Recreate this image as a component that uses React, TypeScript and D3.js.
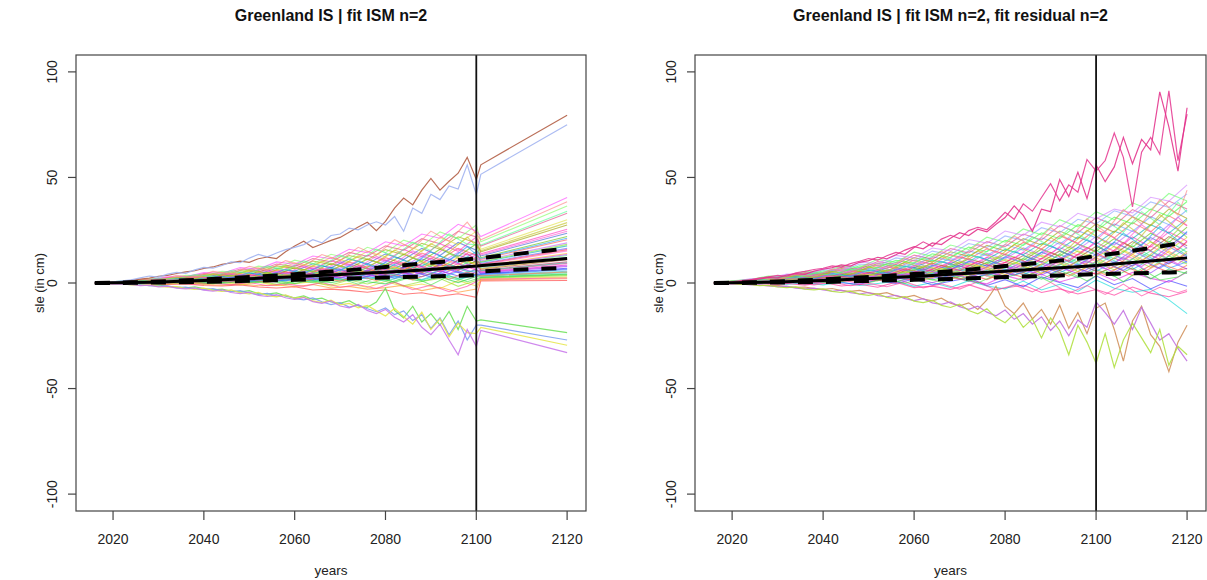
import React from "react";
import * as d3 from "d3";

const W = 1207;
const H = 580;
const TOP = 55;
const BOTTOM = 511;

const yTicks = [-100, -50, 0, 50, 100];
const xTicks = [2020, 2040, 2060, 2080, 2100, 2120];

const years4L = [2016, 2020, 2024, 2028, 2032, 2036, 2040, 2044, 2048, 2052, 2056, 2060, 2064, 2068, 2072, 2076, 2080, 2084, 2088, 2092, 2096, 2100];
const years4R = [2016, 2020, 2024, 2028, 2032, 2036, 2040, 2044, 2048, 2052, 2056, 2060, 2064, 2068, 2072, 2076, 2080, 2084, 2088, 2092, 2096, 2100, 2104, 2108, 2112, 2116, 2120];
const yearsOffL = [2016, 2018, 2022, 2026, 2030, 2034, 2038, 2042, 2046, 2050, 2054, 2058, 2062, 2066, 2070, 2074, 2078, 2082, 2086, 2090, 2094, 2098];
const yearsOffR = [2016, 2018, 2022, 2026, 2030, 2034, 2038, 2042, 2046, 2050, 2054, 2058, 2062, 2066, 2070, 2074, 2078, 2082, 2086, 2090, 2094, 2098, 2102, 2106, 2110, 2114, 2118, 2120];
const years2L = [2016, 2018, 2020, 2022, 2024, 2026, 2028, 2030, 2032, 2034, 2036, 2038, 2040, 2042, 2044, 2046, 2048, 2050, 2052, 2054, 2056, 2058, 2060, 2062, 2064, 2066, 2068, 2070, 2072, 2074, 2076, 2078, 2080, 2082, 2084, 2086, 2088, 2090, 2092, 2094, 2096, 2098, 2100];
const years2R = [2016, 2018, 2020, 2022, 2024, 2026, 2028, 2030, 2032, 2034, 2036, 2038, 2040, 2042, 2044, 2046, 2048, 2050, 2052, 2054, 2056, 2058, 2060, 2062, 2064, 2066, 2068, 2070, 2072, 2074, 2076, 2078, 2080, 2082, 2084, 2086, 2088, 2090, 2092, 2094, 2096, 2098, 2100, 2102, 2104, 2106, 2108, 2110, 2112, 2114, 2116, 2118, 2120];
const extrapYears = [2101, 2120];

// ---------- LEFT PANEL: fit ISM (noisy to 2100, straight extrapolation after) ----------
const leftBundle: number[][] = [
  [0, 0.1, -0.4, -0.3, -0.7, -0.5, -1.2, -1.4, -0.9, -1.9, -2.4, -1.8, -3.3, -2.9, -3.5, -4.4, -3.2, -5.3, -4.6, -6.2, -5.1, -6.8],
  [0, -0.2, 0.1, -0.3, -0.5, 0.0, -0.6, -1.1, -0.4, -1.3, -0.9, -1.8, -0.7, -2.4, -1.6, -2.9, -2.2, -1.1, -3.6, -2.0, -4.4, -2.9],
  [0, 0.2, -0.1, 0.1, -0.4, 0.3, -0.5, 0.2, -0.8, 0.4, -1.2, -0.3, 0.6, -1.5, -0.2, -2.1, 0.8, -1.7, -0.5, -2.6, 1.1, -1.4],
  [0, 0.0, 0.2, -0.2, 0.3, 0.5, -0.3, 0.6, -0.1, 0.9, -0.6, 1.2, 0.1, -0.9, 1.4, -0.5, 1.9, -1.3, 0.7, 2.1, -1.6, 1.2],
  [0, 0.1, -0.1, 0.3, 0.1, 0.6, 0.2, -0.2, 0.9, 0.4, 1.2, -0.3, 1.5, 0.2, 1.9, 0.6, -0.4, 2.3, 0.8, 2.8, 0.2, 3.1],
  [0, -0.1, 0.2, 0.1, 0.4, 0.2, 0.8, 0.3, 1.1, 0.5, 0.9, 1.6, 0.4, 2.0, 1.1, 2.6, 0.9, 3.1, 1.4, 3.6, 1.5, 4.2],
  [0, 0.2, 0.1, 0.4, 0.2, 0.7, 0.4, 1.1, 0.5, 1.4, 0.8, 2.0, 1.2, 2.6, 1.0, 3.1, 1.9, 3.8, 1.6, 4.5, 2.2, 3.4],
  [0, 0.0, 0.3, 0.2, 0.6, 0.4, 1.0, 0.6, 1.3, 0.9, 2.1, 1.3, 2.5, 1.6, 3.2, 2.0, 3.9, 2.4, 4.6, 2.9, 5.4, 3.6],
  [0, 0.1, 0.1, 0.5, 0.3, 0.9, 0.6, 1.4, 0.8, 2.0, 1.2, 2.6, 1.5, 3.3, 1.9, 4.1, 2.3, 4.9, 3.0, 5.8, 3.3, 6.5],
  [0, 0.2, 0.3, 0.2, 0.8, 0.5, 1.3, 0.9, 1.9, 1.4, 2.6, 1.8, 3.4, 2.2, 4.3, 2.9, 5.1, 3.4, 6.2, 4.0, 7.4, 4.6],
  [0, 0.0, 0.4, 0.6, 0.4, 1.2, 0.8, 1.7, 1.2, 2.5, 1.6, 3.4, 2.0, 4.4, 2.8, 5.2, 3.5, 6.4, 4.1, 7.5, 5.0, 8.6],
  [0, 0.2, 0.2, 0.7, 0.6, 1.0, 1.5, 1.2, 2.3, 1.9, 3.1, 2.5, 4.2, 3.0, 5.4, 3.8, 6.6, 4.5, 7.9, 5.3, 9.2, 6.0],
  [0, 0.1, 0.5, 0.3, 0.9, 0.8, 1.6, 1.1, 2.4, 1.7, 3.3, 2.2, 4.5, 3.1, 3.9, 5.8, 4.4, 7.2, 5.1, 8.6, 6.3, 10.4],
  [0, 0.3, 0.2, 0.6, 0.4, 1.3, 0.9, 2.0, 1.4, 2.9, 1.9, 3.8, 2.7, 5.0, 3.2, 6.1, 4.0, 7.6, 4.8, 9.0, 5.9, 10.6],
  [0, 0.0, 0.6, 0.4, 1.0, 0.8, 1.9, 1.2, 2.7, 1.8, 3.8, 2.6, 5.1, 3.4, 6.3, 4.2, 7.7, 5.5, 9.1, 6.2, 10.8, 7.4],
  [0, 0.2, 0.3, 0.9, 0.6, 1.5, 1.1, 2.3, 1.7, 3.4, 2.3, 4.6, 3.0, 5.9, 4.1, 7.2, 5.0, 8.9, 6.1, 10.5, 7.3, 12.2],
  [0, 0.1, 0.6, 0.5, 1.3, 0.9, 2.2, 1.5, 3.2, 2.2, 4.4, 2.9, 5.8, 3.9, 7.1, 4.8, 8.7, 6.0, 10.3, 7.2, 12.1, 8.9],
  [0, 0.3, 0.4, 1.0, 0.8, 1.9, 1.4, 2.8, 2.0, 3.9, 2.8, 5.2, 3.7, 6.6, 4.7, 8.2, 5.9, 9.8, 7.2, 11.6, 8.8, 13.5],
  [0, 0.2, 0.7, 0.6, 1.4, 1.2, 2.5, 1.8, 3.6, 2.6, 4.9, 3.5, 6.4, 4.5, 8.0, 5.6, 9.6, 7.0, 11.4, 8.5, 13.2, 10.6],
  [0, 0.1, 0.5, 1.1, 0.9, 2.0, 1.6, 3.1, 2.3, 4.4, 3.2, 5.8, 4.3, 7.4, 5.4, 9.1, 6.7, 10.9, 8.0, 12.8, 9.8, 14.9],
  [0, 0.3, 0.6, 0.8, 1.6, 1.3, 2.8, 2.1, 4.0, 3.1, 5.4, 4.0, 7.1, 5.3, 8.8, 6.6, 10.7, 8.0, 12.6, 9.5, 14.5, 12.0],
  [0, 0.2, 0.8, 0.7, 1.7, 1.6, 3.1, 2.3, 4.5, 3.5, 6.1, 4.6, 7.9, 6.0, 9.9, 7.5, 12.0, 9.2, 14.2, 11.0, 16.4, 13.2],
  [0, 0.4, 0.5, 1.3, 1.2, 2.5, 2.0, 3.8, 3.0, 5.4, 4.1, 7.2, 5.5, 9.1, 7.0, 11.3, 8.6, 13.5, 10.4, 16.0, 12.5, 18.6],
  [0, 0.2, 0.9, 1.0, 2.0, 1.9, 3.5, 2.9, 5.1, 4.2, 7.0, 5.6, 9.1, 7.2, 11.4, 9.0, 13.8, 11.1, 16.4, 13.0, 19.2, 15.5],
  [0, 0.3, 0.7, 1.5, 1.4, 2.9, 2.4, 4.4, 3.6, 6.3, 5.0, 8.4, 6.6, 10.6, 8.4, 13.1, 10.3, 15.9, 12.5, 18.6, 15.0, 21.8],
  [0, 0.4, 1.0, 1.2, 2.3, 2.3, 4.0, 3.5, 5.9, 5.1, 8.1, 6.8, 10.4, 8.7, 13.0, 11.0, 15.8, 13.4, 18.8, 16.0, 21.9, 19.0],
  [0, 0.3, 0.8, 1.7, 1.6, 3.2, 2.9, 4.9, 4.3, 7.2, 5.9, 9.6, 7.9, 12.1, 10.0, 15.0, 12.4, 18.2, 15.0, 21.5, 18.2, 24.6],
  [0, 0.5, 1.1, 1.4, 2.6, 2.7, 4.5, 4.0, 6.6, 5.9, 9.0, 7.8, 11.6, 10.1, 14.5, 12.7, 17.6, 15.5, 21.0, 18.6, 24.5, 21.8],
  [0, 0.4, 0.9, 1.9, 1.9, 3.6, 3.3, 5.5, 4.9, 8.0, 6.8, 10.8, 9.0, 13.6, 11.6, 16.9, 14.4, 20.3, 17.6, 24.2, 21.0, 27.5],
  [0, 0.5, 1.2, 1.6, 2.9, 3.0, 5.0, 4.6, 7.3, 6.6, 10.0, 8.9, 12.8, 11.5, 16.0, 14.4, 19.5, 17.6, 23.2, 21.2, 27.8, 24.6],
];

const leftExtrap: number[][] = [
  [1.0, 1.2], [1.5, 2.0], [2.0, 2.8], [2.3, 3.5], [2.8, 4.2], [3.2, 4.9], [3.6, 5.6], [4.0, 6.3], [4.4, 7.0], [4.8, 7.8],
  [5.2, 8.5], [5.6, 9.3], [6.0, 10.0], [6.5, 11.0], [7.0, 12.0], [7.5, 13.0], [8.0, 14.0], [8.6, 15.2], [9.2, 16.4], [9.8, 17.6],
  [10.5, 19.0], [11.2, 20.5], [12.0, 22.0], [12.8, 23.6], [13.8, 25.5], [14.8, 27.5], [16.0, 30.0], [17.5, 33.0], [19.5, 36.5], [22.0, 40.5],
];

const leftColors = [
  "#ff3030", "#ff9020", "#e8d820", "#90e020", "#20d040", "#20e0a0", "#20c8d0", "#2090ff", "#3030ff", "#9030ff",
  "#e020e0", "#ff2090", "#c03060", "#a05030", "#60a0ff", "#50f070", "#ffb020", "#ff60c0", "#6060ff", "#00b0b0",
  "#c060ff", "#ff5050", "#60c000", "#3060d0", "#ff30c0", "#a0a000", "#e0e040", "#e04080", "#80ff60", "#ff40ff",
];

// second group of left lines, sampled between the first group's years
const leftBundle2: number[][] = [
  [0, 0.1, -0.2, 0.2, -0.4, 0.1, -0.6, -0.1, -0.9, 0.3, -1.3, -0.4, -1.6, 0.2, -2.0, -0.8, -2.6, 0.4, -3.2, -1.0, -4.1, -1.5],
  [0, -0.1, 0.2, -0.1, 0.4, 0.0, 0.6, -0.3, 0.9, 0.1, 1.3, -0.4, 1.6, 0.2, 2.1, -0.6, 2.5, 0.4, 3.0, -0.9, 3.4, 0.6],
  [0, 0.1, 0.0, 0.4, 0.1, 0.7, 0.2, 1.0, 0.5, 1.5, 0.4, 2.0, 0.8, 2.6, 0.9, 3.2, 1.2, 3.9, 1.5, 4.6, 1.8, 5.2],
  [0, 0.0, 0.3, 0.1, 0.7, 0.3, 1.1, 0.6, 1.6, 0.8, 2.3, 1.0, 3.0, 1.4, 3.8, 1.8, 4.6, 2.2, 5.6, 2.8, 6.7, 3.4],
  [0, 0.1, 0.1, 0.6, 0.2, 1.1, 0.5, 1.7, 0.9, 2.5, 1.3, 3.3, 1.8, 4.2, 2.3, 5.2, 2.9, 6.3, 3.5, 7.6, 4.3, 8.9],
  [0, 0.0, 0.4, 0.2, 0.9, 0.5, 1.5, 0.8, 2.3, 1.2, 3.2, 1.7, 4.1, 2.3, 5.1, 2.9, 6.2, 3.6, 7.4, 4.4, 8.8, 5.4],
  [0, 0.2, 0.1, 0.8, 0.4, 1.4, 0.8, 2.2, 1.3, 3.1, 1.9, 4.1, 2.5, 5.2, 3.2, 6.4, 3.9, 7.7, 4.8, 9.2, 5.8, 10.9],
  [0, 0.0, 0.5, 0.3, 1.2, 0.7, 1.9, 1.2, 2.9, 1.7, 4.0, 2.4, 5.1, 3.2, 6.4, 4.0, 7.8, 4.9, 9.4, 6.0, 11.2, 7.2],
  [0, 0.2, 0.2, 1.0, 0.6, 1.8, 1.1, 2.8, 1.8, 3.9, 2.6, 5.2, 3.5, 6.6, 4.5, 8.2, 5.5, 9.9, 6.6, 11.8, 8.0, 14.0],
  [0, 0.1, 0.6, 0.4, 1.5, 0.9, 2.4, 1.5, 3.6, 2.2, 4.9, 3.1, 6.4, 4.1, 8.0, 5.2, 9.8, 6.4, 11.8, 7.8, 14.0, 9.4],
  [0, 0.3, 0.3, 1.2, 0.8, 2.2, 1.5, 3.4, 2.4, 4.8, 3.4, 6.4, 4.6, 8.2, 5.9, 10.2, 7.3, 12.4, 8.9, 14.8, 10.8, 17.2],
  [0, 0.1, 0.8, 0.6, 1.9, 1.3, 3.1, 2.2, 4.6, 3.2, 6.3, 4.4, 8.2, 5.9, 10.3, 7.5, 12.6, 9.3, 15.2, 11.4, 18.2, 13.6],
  [0, 0.4, 0.4, 1.5, 1.0, 2.8, 2.0, 4.3, 3.2, 6.1, 4.5, 8.1, 6.1, 10.4, 7.9, 12.9, 9.8, 15.6, 12.0, 18.6, 14.6, 21.8],
  [0, 0.1, 1.0, 0.8, 2.4, 1.8, 4.0, 3.0, 5.9, 4.5, 8.1, 6.1, 10.5, 8.0, 13.2, 10.2, 16.1, 12.6, 19.4, 15.3, 23.2, 18.4],
  [0, 0.5, 0.5, 1.9, 1.3, 3.6, 2.6, 5.5, 4.2, 7.9, 6.0, 10.6, 8.1, 13.5, 10.6, 16.9, 13.2, 20.5, 16.2, 24.6, 19.8, 28.8],
];
const leftExtrap2: number[][] = [
  [1.8, 2.4], [2.6, 3.9], [3.4, 5.2], [4.2, 6.6], [5.0, 8.2], [5.8, 9.6], [6.8, 11.5], [7.8, 13.5],
  [8.9, 15.8], [10.1, 18.3], [11.6, 21.2], [13.3, 24.5], [15.3, 28.6], [18.0, 34.0], [20.5, 38.5],
];
const leftColors2 = [
  "#ff40a0", "#40e040", "#ff7040", "#4060ff", "#e040e0", "#30d0b0", "#f0c020", "#b040ff",
  "#ff3060", "#80e030", "#20a0f0", "#ff50d0", "#c0c020", "#50ff90", "#ff8080",
];

const leftBrown = [0, 0.1, 0.4, 0.8, 1.3, 1.8, 2.3, 3.2, 3.6, 4.5, 5.3, 5.8, 6.9, 7.6, 8.8, 9.5, 10.4, 9.8, 11.5, 12.3, 11.6, 14.8, 17.5, 19.8, 16.8, 18.5, 20.2, 21.6, 24.0, 26.5, 28.8, 24.8, 29.2, 35.5, 40.2, 37.0, 44.0, 49.5, 44.0, 48.2, 52.0, 59.5, 49.0];
const leftLightBlue = [0, 0.2, 0.5, 1.0, 1.5, 2.4, 3.3, 2.8, 4.2, 5.0, 4.6, 6.2, 7.4, 7.0, 8.3, 10.0, 9.6, 11.8, 13.5, 12.4, 14.2, 15.8, 16.9, 18.2, 20.5, 19.0, 22.5, 23.2, 26.0, 25.2, 27.5, 29.0, 27.5, 31.5, 24.5, 35.5, 33.0, 42.0, 39.5, 46.0, 44.5, 56.0, 42.0];
const leftGreenDown = [0, -0.1, -0.3, -0.5, -0.4, -0.9, -1.2, -0.9, -1.6, -1.9, -2.3, -1.8, -2.6, -3.2, -2.9, -3.8, -4.2, -3.6, -5.0, -5.3, -4.7, -6.2, -7.0, -6.1, -7.8, -7.2, -9.0, -9.6, -8.4, -10.8, -11.5, -9.0, -2.5, -13.0, -16.5, -11.0, -18.5, -14.5, -20.0, -13.5, -22.0, -11.0, -18.0];
const leftBlueDown = [0, -0.2, -0.2, -0.6, -0.8, -0.7, -1.3, -1.5, -1.4, -2.2, -2.0, -2.8, -3.1, -2.7, -3.7, -4.1, -3.6, -4.8, -5.4, -4.9, -6.2, -5.8, -7.3, -8.0, -7.1, -8.9, -10.2, -9.3, -11.4, -10.5, -12.2, -13.6, -11.8, -15.0, -13.2, -17.8, -15.0, -21.5, -16.5, -24.5, -18.0, -27.0, -20.0];
const leftYellowDown = [0, -0.1, -0.4, -0.3, -0.9, -1.1, -0.9, -1.6, -2.0, -1.7, -2.6, -3.0, -2.4, -3.5, -4.0, -3.3, -4.6, -5.2, -4.4, -6.0, -6.6, -5.6, -7.2, -6.7, -8.5, -9.3, -8.1, -10.4, -9.7, -11.8, -10.6, -13.2, -15.6, -12.0, -16.0, -19.5, -13.8, -22.0, -17.0, -25.5, -19.0, -23.5, -24.0];
const leftPurpleDown = [0, -0.2, -0.5, -0.4, -0.7, -1.2, -1.0, -1.8, -1.5, -2.4, -2.8, -2.3, -3.4, -3.8, -3.2, -4.5, -5.0, -4.3, -5.9, -6.4, -5.5, -7.0, -7.8, -6.9, -8.8, -9.6, -8.5, -10.9, -11.8, -10.2, -13.0, -14.5, -12.5, -16.2, -18.5, -15.0, -21.0, -24.5, -19.5, -27.0, -34.0, -22.0, -30.0];

const leftOutliers = [leftBrown, leftLightBlue, leftGreenDown, leftBlueDown, leftYellowDown, leftPurpleDown];
const leftOutlierExtrap = [[56.0, 79.5], [51.5, 75.0], [-17.5, -23.5], [-20.0, -27.0], [-21.0, -29.5], [-22.5, -33.0]];
const leftOutlierColors = ["#b05a40", "#9fb2f0", "#6ee05a", "#7c9ef0", "#e6e64a", "#c878ea"];

const blackYears = years4R;
const leftMean = [0, 0.1, 0.2, 0.4, 0.6, 0.9, 1.2, 1.5, 1.9, 2.2, 2.6, 3.0, 3.4, 3.8, 4.3, 4.7, 5.1, 5.6, 6.2, 6.8, 7.4, 8.0, 8.8, 9.5, 10.2, 10.9, 11.6];
const leftUpper = [0, 0.1, 0.3, 0.6, 0.9, 1.3, 1.7, 2.1, 2.6, 3.1, 3.6, 4.2, 4.8, 5.4, 6.1, 6.8, 7.6, 8.4, 9.2, 10.0, 10.8, 11.6, 12.6, 13.5, 14.5, 15.4, 16.4];
const leftLowerYears = [2016, 2020, 2024, 2028, 2032, 2036, 2040, 2044, 2048, 2052, 2056, 2060, 2064, 2068, 2072, 2076, 2080, 2084, 2088, 2092, 2096, 2100, 2101, 2104, 2108, 2112, 2116, 2120];
const leftLower = [0, 0.0, 0.1, 0.2, 0.3, 0.4, 0.5, 0.7, 0.9, 1.1, 1.3, 1.5, 1.7, 1.9, 2.1, 2.4, 2.6, 2.8, 3.0, 3.2, 3.4, 3.7, 5.5, 5.8, 6.2, 6.6, 6.9, 7.2];

// ---------- RIGHT PANEL: fit ISM + fit residual (noisy to 2120) ----------
const rightBundle: number[][] = [
  [0, -0.3, 0.2, -0.6, -0.2, -1.0, 0.3, -1.4, -0.6, -2.0, 0.4, -2.2, -1.5, -3.0, -0.8, -3.6, -2.4, -1.0, -4.5, -2.8, -5.2, -3.1, -5.8, -1.9, -4.8, -6.5, -4.0],
  [0, 0.2, -0.3, 0.3, -0.6, 0.1, -0.9, 0.5, -1.2, -0.2, 0.8, -1.6, 0.2, -2.1, 1.1, -1.4, -2.8, 0.9, -3.3, -0.6, -4.0, 1.5, -2.5, -4.4, -3.0, -8.0, -14.5],
  [0, 0.1, 0.4, -0.2, 0.6, -0.3, 0.9, 0.1, -0.6, 1.4, -0.2, 1.9, -0.9, 0.8, 2.4, -1.2, 1.6, -1.8, 2.9, 0.2, -2.2, 3.4, -0.8, 2.1, -2.8, 1.2, -1.5],
  [0, -0.2, 0.3, 0.5, 0.1, 0.9, 0.2, 1.3, -0.1, 1.8, 0.6, 2.3, 0.1, 2.9, 1.0, -0.4, 3.5, 1.3, 4.1, 0.5, 3.0, 4.8, 1.2, 5.0, 2.2, 0.4, 5.2],
  [0, 0.3, 0.0, 0.7, 0.3, 1.2, 0.4, 1.6, 1.0, 2.3, 0.6, 3.0, 1.4, 3.6, 0.9, 4.2, 2.6, 5.0, 1.8, 5.9, 2.5, 6.4, 3.1, 7.2, 2.0, 6.6, 4.5],
  [0, 0.1, 0.5, 0.3, 1.0, 0.4, 1.5, 0.7, 2.2, 1.1, 2.9, 1.3, 3.6, 2.0, 4.4, 1.6, 5.1, 2.7, 6.2, 3.0, 7.0, 4.1, 7.8, 3.5, 8.4, 5.2, 6.9],
  [0, 0.4, 0.2, 0.9, 0.5, 1.5, 0.8, 2.1, 1.3, 2.8, 1.6, 3.6, 2.2, 4.5, 2.5, 5.4, 3.1, 6.5, 3.8, 7.6, 4.4, 8.5, 5.1, 9.6, 4.8, 10.4, 6.6],
  [0, 0.0, 0.6, 0.4, 1.2, 0.7, 1.9, 1.1, 2.7, 1.6, 3.4, 2.3, 4.4, 2.8, 5.3, 3.4, 6.4, 4.0, 7.7, 4.9, 8.8, 5.6, 10.0, 6.4, 11.2, 7.0, 10.1],
  [0, 0.3, 0.3, 1.0, 0.6, 1.7, 1.0, 2.5, 1.5, 3.4, 2.0, 4.3, 2.6, 5.4, 3.2, 6.5, 3.9, 7.8, 4.6, 9.1, 5.4, 10.3, 6.2, 11.6, 7.4, 12.8, 9.0],
  [0, 0.1, 0.7, 0.5, 1.4, 0.9, 2.2, 1.4, 3.1, 2.1, 4.0, 2.6, 5.2, 3.4, 6.3, 4.1, 7.6, 5.0, 9.0, 5.8, 10.4, 6.9, 11.8, 8.0, 13.2, 9.1, 14.0],
  [0, 0.4, 0.4, 1.2, 0.8, 1.9, 1.3, 2.9, 1.9, 3.8, 2.6, 5.0, 3.2, 6.2, 4.1, 7.5, 4.9, 9.0, 5.8, 10.5, 6.8, 12.0, 7.5, 13.6, 8.8, 15.0, 10.4],
  [0, 0.2, 0.8, 0.6, 1.6, 1.2, 2.6, 1.8, 3.6, 2.6, 4.7, 3.3, 6.0, 4.2, 7.3, 5.2, 8.8, 6.1, 10.3, 7.2, 11.9, 8.4, 13.6, 9.6, 15.2, 11.0, 16.8],
  [0, 0.5, 0.5, 1.4, 1.0, 2.2, 1.6, 3.3, 2.3, 4.4, 3.1, 5.7, 4.0, 7.1, 5.0, 8.6, 6.0, 10.2, 7.2, 11.9, 8.4, 13.6, 9.6, 15.3, 11.0, 17.2, 12.6],
  [0, 0.2, 0.9, 0.7, 1.8, 1.4, 2.9, 2.2, 4.1, 3.0, 5.3, 4.0, 6.8, 5.1, 8.3, 6.3, 9.9, 7.4, 11.7, 8.8, 13.6, 10.2, 15.4, 11.6, 17.5, 13.0, 19.4],
  [0, 0.4, 0.6, 1.6, 1.2, 2.6, 1.9, 3.8, 2.8, 5.1, 3.6, 6.6, 4.7, 8.1, 5.8, 9.8, 7.0, 11.6, 8.3, 13.6, 9.9, 15.5, 11.4, 17.6, 12.8, 19.8, 14.6],
  [0, 0.1, 1.0, 0.8, 2.1, 1.6, 3.3, 2.5, 4.6, 3.6, 6.0, 4.6, 7.6, 6.0, 9.3, 7.3, 11.2, 8.8, 13.2, 10.4, 15.2, 12.0, 17.4, 13.6, 19.5, 15.6, 21.6],
  [0, 0.5, 0.7, 1.8, 1.4, 2.9, 2.3, 4.2, 3.3, 5.8, 4.2, 7.4, 5.6, 9.1, 7.0, 11.0, 8.4, 13.0, 10.0, 15.2, 11.8, 17.4, 13.6, 19.6, 15.4, 22.0, 17.6],
  [0, 0.2, 1.1, 1.0, 2.3, 1.8, 3.6, 2.8, 5.1, 4.0, 6.6, 5.2, 8.4, 6.6, 10.3, 8.0, 12.4, 9.6, 14.6, 11.4, 16.8, 13.3, 19.2, 15.2, 21.5, 17.2, 24.0],
  [0, 0.6, 0.8, 2.0, 1.6, 3.2, 2.6, 4.7, 3.8, 6.4, 5.0, 8.2, 6.4, 10.0, 8.0, 12.2, 9.6, 14.4, 11.3, 16.8, 13.2, 19.2, 15.0, 21.8, 17.0, 24.2, 19.8],
  [0, 0.3, 1.2, 1.1, 2.5, 2.0, 4.0, 3.1, 5.6, 4.5, 7.3, 5.8, 9.3, 7.4, 11.4, 9.0, 13.6, 10.8, 16.0, 12.8, 18.5, 15.0, 21.0, 17.0, 23.6, 19.2, 26.5],
  [0, 0.6, 1.0, 2.3, 1.9, 3.7, 3.0, 5.4, 4.4, 7.4, 5.8, 9.4, 7.6, 11.6, 9.4, 14.0, 11.4, 16.6, 13.5, 19.4, 15.8, 22.0, 18.0, 24.8, 20.2, 27.6, 23.0],
  [0, 0.3, 1.4, 1.3, 2.9, 2.5, 4.6, 3.8, 6.6, 5.5, 8.6, 7.2, 10.9, 9.0, 13.4, 11.2, 16.0, 13.4, 18.8, 15.8, 21.8, 18.4, 24.6, 21.0, 27.6, 23.6, 30.5],
  [0, 0.7, 1.1, 2.6, 2.2, 4.2, 3.6, 6.2, 5.2, 8.5, 7.0, 10.9, 9.0, 13.4, 11.3, 16.2, 13.6, 19.2, 16.1, 22.4, 18.8, 25.4, 21.4, 28.6, 24.2, 31.8, 27.2],
  [0, 0.4, 1.5, 1.5, 3.2, 2.9, 5.2, 4.4, 7.4, 6.4, 9.8, 8.3, 12.4, 10.5, 15.2, 13.0, 18.2, 15.6, 21.4, 18.4, 24.8, 21.4, 28.0, 24.4, 31.4, 27.6, 34.6],
  [0, 0.8, 1.2, 2.8, 2.5, 4.6, 4.0, 6.8, 5.8, 9.3, 7.8, 12.0, 10.0, 14.8, 12.6, 17.8, 15.2, 21.0, 18.0, 24.6, 21.0, 28.0, 24.0, 31.4, 27.2, 35.0, 30.6],
  [0, 0.5, 1.6, 1.7, 3.5, 3.3, 5.8, 5.0, 8.2, 7.2, 10.8, 9.4, 13.8, 12.0, 17.0, 14.8, 20.2, 17.8, 23.8, 21.0, 27.6, 24.6, 31.2, 28.0, 35.0, 31.6, 38.6],
  [0, 0.9, 1.4, 3.0, 2.8, 5.0, 4.5, 7.4, 6.5, 10.2, 8.8, 13.2, 11.3, 16.3, 14.2, 19.6, 17.2, 23.2, 20.4, 27.2, 23.8, 31.0, 27.2, 34.8, 31.0, 38.8, 35.0],
  [0, 0.6, 1.8, 1.9, 3.8, 3.7, 6.3, 5.6, 9.0, 8.2, 11.9, 10.6, 15.1, 13.5, 18.7, 16.8, 22.3, 20.2, 26.2, 23.8, 30.2, 28.0, 34.2, 31.6, 38.4, 35.8, 42.2],
  [0, 1.0, 1.6, 3.3, 3.1, 5.5, 5.0, 8.1, 7.3, 11.2, 9.8, 14.6, 12.6, 18.0, 15.9, 21.7, 19.3, 25.6, 22.8, 30.0, 26.6, 33.8, 30.0, 38.0, 34.6, 42.4, 38.8],
  [0, 0.7, 2.0, 2.2, 4.2, 4.1, 6.9, 6.2, 9.9, 9.2, 13.1, 11.9, 16.6, 15.2, 20.6, 18.9, 24.6, 22.6, 28.8, 26.6, 33.0, 30.4, 35.0, 33.2, 40.6, 38.8, 46.5],
];

const rightColors = [
  "#ff2090", "#00d8d8", "#3030ff", "#e020e0", "#20d040", "#ff3030", "#9030ff", "#2090ff", "#90e020", "#c03060",
  "#ff9020", "#50f070", "#6060ff", "#ff60c0", "#20e0a0", "#e8d820", "#a05030", "#3060d0", "#ff30c0", "#60c000",
  "#c060ff", "#00b0b0", "#ff5050", "#60a0ff", "#a0a000", "#40ff40", "#e04080", "#80a0ff", "#60ff60", "#d080ff",
];

// second group of right lines, sampled between the first group's years
const rightBundle2: number[][] = [
  [0, 0.1, -0.3, 0.3, -0.6, 0.2, -0.9, 0.4, -1.3, -0.2, -1.8, 0.5, -2.3, -0.4, -2.9, 0.6, -3.4, -0.9, -4.2, 0.3, -4.8, -1.2, -5.4, -0.5, -6.1, -2.0, -4.6, -3.2],
  [0, -0.1, 0.4, -0.2, 0.8, 0.1, 1.2, -0.3, 1.7, 0.2, 2.2, -0.2, 2.8, 0.4, 3.3, 0.0, 3.9, 0.8, 4.6, 0.4, 5.3, 1.0, 6.0, 0.6, 6.8, 1.4, 2.8, 5.6],
  [0, 0.2, 0.0, 0.6, 0.3, 1.1, 0.4, 1.6, 0.8, 2.3, 1.0, 3.0, 1.4, 3.8, 1.8, 4.6, 2.2, 5.5, 2.8, 6.5, 3.3, 7.4, 4.0, 8.3, 4.6, 9.4, 6.2, 8.4],
  [0, 0.0, 0.5, 0.2, 1.0, 0.6, 1.6, 1.0, 2.4, 1.3, 3.2, 1.8, 4.1, 2.4, 5.0, 3.0, 6.0, 3.7, 7.2, 4.4, 8.4, 5.2, 9.6, 6.0, 10.8, 7.0, 12.2, 9.8],
  [0, 0.3, 0.1, 0.9, 0.5, 1.6, 0.9, 2.4, 1.4, 3.3, 2.0, 4.3, 2.6, 5.4, 3.3, 6.6, 4.0, 7.8, 4.9, 9.2, 5.8, 10.6, 6.7, 12.1, 7.8, 13.6, 9.0, 12.4],
  [0, 0.1, 0.6, 0.4, 1.3, 0.9, 2.1, 1.4, 3.0, 2.0, 4.0, 2.7, 5.2, 3.5, 6.4, 4.3, 7.8, 5.3, 9.2, 6.3, 10.8, 7.4, 12.4, 8.6, 14.1, 9.8, 15.8, 13.0],
  [0, 0.3, 0.2, 1.1, 0.7, 2.0, 1.2, 3.0, 1.9, 4.1, 2.6, 5.4, 3.5, 6.7, 4.4, 8.2, 5.4, 9.7, 6.5, 11.4, 7.7, 13.2, 8.9, 15.1, 10.3, 17.0, 11.6, 15.0],
  [0, 0.1, 0.8, 0.5, 1.6, 1.2, 2.6, 1.8, 3.7, 2.6, 5.0, 3.5, 6.4, 4.5, 8.0, 5.6, 9.6, 6.8, 11.4, 8.1, 13.4, 9.5, 15.4, 11.0, 17.5, 12.6, 19.8, 16.4],
  [0, 0.4, 0.3, 1.4, 0.9, 2.5, 1.6, 3.7, 2.5, 5.1, 3.5, 6.7, 4.6, 8.4, 5.9, 10.3, 7.2, 12.3, 8.7, 14.5, 10.3, 16.8, 12.0, 19.2, 13.8, 21.8, 15.6, 19.8],
  [0, 0.2, 1.0, 0.7, 2.0, 1.5, 3.3, 2.4, 4.7, 3.4, 6.3, 4.6, 8.1, 5.9, 10.1, 7.4, 12.2, 9.0, 14.5, 10.7, 17.0, 12.6, 19.6, 14.6, 22.3, 16.8, 25.2, 21.6],
  [0, 0.5, 0.4, 1.7, 1.1, 3.0, 2.0, 4.5, 3.1, 6.2, 4.4, 8.1, 5.8, 10.3, 7.5, 12.6, 9.2, 15.1, 11.1, 17.8, 13.2, 20.6, 15.4, 23.6, 17.8, 26.8, 20.2, 24.5],
  [0, 0.2, 1.1, 0.9, 2.4, 1.9, 3.9, 3.0, 5.7, 4.3, 7.7, 5.8, 9.9, 7.5, 12.4, 9.3, 15.0, 11.4, 17.9, 13.6, 21.0, 16.0, 24.2, 18.6, 27.6, 21.4, 31.2, 27.0],
  [0, 0.6, 0.5, 2.0, 1.4, 3.6, 2.5, 5.4, 3.9, 7.5, 5.5, 9.8, 7.3, 12.4, 9.4, 15.2, 11.6, 18.2, 14.0, 21.5, 16.6, 25.0, 19.4, 28.6, 22.4, 32.4, 25.6, 29.8],
  [0, 0.3, 1.3, 1.1, 2.8, 2.3, 4.6, 3.7, 6.7, 5.4, 9.2, 7.3, 11.9, 9.5, 14.9, 11.9, 18.2, 14.6, 21.8, 17.5, 25.6, 20.6, 29.6, 24.0, 33.8, 27.6, 38.2, 33.5],
  [0, 0.7, 0.6, 2.4, 1.7, 4.3, 3.2, 6.5, 4.8, 9.0, 6.8, 11.8, 9.0, 15.0, 11.6, 18.4, 14.4, 22.2, 17.4, 26.2, 20.6, 30.4, 24.2, 34.8, 28.0, 39.4, 32.2, 44.0],
];
const rightColors2 = [
  "#ff40a0", "#40e040", "#ff7040", "#4060ff", "#e040e0", "#30d0b0", "#f0c020", "#b040ff",
  "#ff3060", "#80e030", "#20a0f0", "#ff50d0", "#c0c020", "#50ff90", "#ff8080",
];

const rightPinkA = [0, 0.3, 0.6, 1.1, 1.5, 2.3, 2.9, 3.6, 3.2, 4.8, 5.5, 6.4, 7.0, 8.1, 7.5, 9.2, 10.3, 11.6, 10.8, 12.9, 14.5, 13.6, 16.8, 19.5, 17.4, 20.8, 22.6, 21.0, 24.8, 26.4, 25.2, 29.0, 33.5, 30.2, 37.5, 34.0, 40.5, 47.0, 39.0, 46.5, 43.0, 58.5, 53.0, 58.0, 71.0, 59.5, 36.0, 62.0, 69.0, 61.0, 91.0, 58.0, 80.0];
const rightPinkB = [0, 0.2, 0.4, 0.8, 1.4, 1.9, 2.6, 2.4, 3.8, 4.4, 4.1, 5.6, 6.5, 7.3, 8.6, 8.0, 9.8, 10.6, 12.2, 11.5, 13.4, 15.6, 17.2, 16.2, 19.0, 18.2, 21.2, 23.8, 22.5, 25.5, 24.2, 27.8, 31.0, 36.5, 32.0, 24.5, 35.0, 33.8, 49.0, 41.0, 52.5, 40.0, 56.0, 48.0, 55.0, 69.0, 56.5, 68.0, 63.0, 90.5, 74.0, 53.0, 83.0];
const rightTanDown = [0, -0.2, -0.3, -0.6, -0.5, -1.0, -1.3, -1.1, -1.8, -2.1, -1.9, -2.7, -3.0, -2.6, -3.6, -4.0, -3.5, -4.7, -5.3, -4.6, -6.1, -6.8, -5.9, -7.6, -8.5, -7.2, -9.6, -10.8, -9.4, -12.5, -8.0, -1.5, -11.0, -14.5, -9.5, -17.0, -12.5, -19.5, -10.5, -21.5, -14.0, -24.0, -12.0, -9.5, -22.0, -37.0, -18.0, -11.0, -24.5, -30.0, -42.0, -28.0, -20.0];
const rightPurpleDown = [0, -0.1, -0.4, -0.4, -0.9, -0.8, -1.4, -1.7, -1.5, -2.4, -2.8, -2.4, -3.3, -3.9, -3.4, -4.6, -5.2, -4.5, -6.0, -6.5, -5.8, -7.4, -8.3, -7.4, -9.4, -10.1, -9.0, -11.2, -12.5, -11.0, -13.8, -15.5, -12.8, -17.2, -14.5, -19.5, -16.0, -22.5, -18.0, -25.0, -17.5, -21.0, -9.0, -14.0, -19.5, -13.0, -22.0, -11.5, -19.0, -27.0, -24.0, -31.0, -37.0];
const rightYGreenDown = [0, -0.2, -0.2, -0.7, -0.7, -1.2, -1.1, -1.9, -2.2, -1.8, -2.9, -3.3, -2.8, -4.0, -4.5, -3.9, -5.3, -5.9, -5.1, -6.8, -7.4, -6.4, -8.6, -9.3, -8.2, -10.6, -11.6, -10.0, -13.0, -14.6, -12.2, -16.4, -18.8, -14.6, -21.0, -17.0, -26.0, -16.5, -22.5, -34.0, -20.0, -28.0, -38.0, -24.0, -40.0, -27.0, -19.0, -26.0, -33.0, -22.0, -39.0, -30.0, -34.0];

const rightOutliers = [rightTanDown, rightPurpleDown, rightYGreenDown, rightPinkA, rightPinkB];
const rightOutlierColors = ["#d0905a", "#c070e0", "#b0e040", "#e63a92", "#e2308a"];

const rightMean = [0, 0.1, 0.2, 0.4, 0.6, 0.9, 1.2, 1.5, 1.9, 2.3, 2.7, 3.1, 3.6, 4.1, 4.6, 5.1, 5.6, 6.2, 6.7, 7.2, 7.7, 8.3, 9.0, 9.7, 10.4, 11.1, 11.9];
const rightUpper = [0, 0.1, 0.3, 0.6, 0.9, 1.3, 1.7, 2.1, 2.6, 3.1, 3.7, 4.3, 4.9, 5.6, 6.3, 7.1, 8.0, 8.8, 9.7, 10.6, 11.5, 12.8, 14.0, 15.3, 16.6, 18.0, 19.5];
const rightLower = [0, 0.0, 0.1, 0.2, 0.3, 0.4, 0.5, 0.7, 0.9, 1.1, 1.3, 1.5, 1.7, 1.9, 2.2, 2.5, 2.8, 3.1, 3.3, 3.6, 3.9, 4.2, 4.4, 4.6, 4.8, 5.0, 5.1];

type Pt = [number, number];
const zip = (ys: number[], vs: number[]): Pt[] => {
  const n = Math.min(ys.length, vs.length);
  const out: Pt[] = [];
  for (let i = 0; i < n; i++) out.push([ys[i], vs[i]]);
  return out;
};

const FONT = "'Liberation Sans', Arial, Helvetica, sans-serif";

interface Group {
  lines: number[][];
  years: number[];
  colors: string[];
  extrap?: number[][];
  opacity: number;
  width: number;
}

interface PanelProps {
  id: string;
  left: number;
  right: number;
  title: string;
  groups: Group[];
  mean: number[];
  upper: number[];
  lower: number[];
  lowerYears: number[];
}

function Panel(p: PanelProps) {
  const x = d3.scaleLinear().domain([2011.84, 2124.16]).range([p.left, p.right]);
  const y = d3.scaleLinear().domain([-108, 108]).range([BOTTOM, TOP]);
  const line = d3.line<Pt>().x((d) => x(d[0])).y((d) => y(d[1]));
  const cx = (p.left + p.right) / 2;
  const cy = (TOP + BOTTOM) / 2;

  return (
    <g>
      <defs>
        <clipPath id={`clip-${p.id}`}>
          <rect x={p.left} y={TOP} width={p.right - p.left} height={BOTTOM - TOP} />
        </clipPath>
      </defs>
      <g clipPath={`url(#clip-${p.id})`}>
        {p.groups.map((g, gi) =>
          g.lines.map((vals, i) => {
            let pts = zip(g.years, vals);
            if (g.extrap) pts = pts.concat(zip(extrapYears, g.extrap[i]));
            return (
              <path
                key={`g${gi}-${i}`}
                d={line(pts) || ""}
                fill="none"
                stroke={g.colors[i % g.colors.length]}
                strokeOpacity={g.opacity}
                strokeWidth={g.width}
              />
            );
          })
        )}
        <path d={line(zip(blackYears, p.upper)) || ""} fill="none" stroke="#000" strokeWidth={4} strokeDasharray="15,13" />
        <path d={line(zip(p.lowerYears, p.lower)) || ""} fill="none" stroke="#000" strokeWidth={4} strokeDasharray="15,13" />
        <path d={line(zip(blackYears, p.mean)) || ""} fill="none" stroke="#000" strokeWidth={3} />
      </g>
      <line x1={x(2100)} x2={x(2100)} y1={TOP} y2={BOTTOM} stroke="#111" strokeWidth={1.8} />
      <rect x={p.left} y={TOP} width={p.right - p.left} height={BOTTOM - TOP} fill="none" stroke="#444" strokeWidth={1.2} />
      {yTicks.map((t) => (
        <g key={`yt${t}`}>
          <line x1={p.left - 8} x2={p.left} y1={y(t)} y2={y(t)} stroke="#444" strokeWidth={1.2} />
          <text transform={`translate(${p.left - 19},${y(t)}) rotate(-90)`} textAnchor="middle" fontFamily={FONT} fontSize={14} fill="#222">
            {t}
          </text>
        </g>
      ))}
      {xTicks.map((t) => (
        <g key={`xt${t}`}>
          <line x1={x(t)} x2={x(t)} y1={BOTTOM} y2={BOTTOM + 9} stroke="#444" strokeWidth={1.2} />
          <text x={x(t)} y={543.5} textAnchor="middle" fontFamily={FONT} fontSize={14} fill="#222">
            {t}
          </text>
        </g>
      ))}
      <text x={cx} y={21} textAnchor="middle" fontFamily={FONT} fontSize={16} fontWeight="bold" fill="#111">
        {p.title}
      </text>
      <text x={cx} y={575} textAnchor="middle" fontFamily={FONT} fontSize={13.5} fill="#222">
        years
      </text>
      <text transform={`translate(${p.left - 32},${cy}) rotate(-90)`} textAnchor="middle" fontFamily={FONT} fontSize={13} fill="#222">
        sle (in cm)
      </text>
    </g>
  );
}

export default function App() {
  const leftGroups: Group[] = [
    { lines: leftBundle, years: years4L, colors: leftColors, extrap: leftExtrap, opacity: 0.62, width: 1.1 },
    { lines: leftBundle2, years: yearsOffL, colors: leftColors2, extrap: leftExtrap2, opacity: 0.62, width: 1.1 },
    { lines: leftOutliers, years: years2L, colors: leftOutlierColors, extrap: leftOutlierExtrap, opacity: 0.88, width: 1.2 },
  ];
  const rightGroups: Group[] = [
    { lines: rightBundle, years: years4R, colors: rightColors, opacity: 0.62, width: 1.1 },
    { lines: rightBundle2, years: yearsOffR, colors: rightColors2, opacity: 0.62, width: 1.1 },
    { lines: rightOutliers, years: years2R, colors: rightOutlierColors, opacity: 0.88, width: 1.2 },
  ];
  return (
    <svg width={W} height={H} viewBox={`0 0 ${W} ${H}`} style={{ position: "absolute", left: 0, top: 0, background: "#fff", display: "block" }}>
      <rect x={0} y={0} width={W} height={H} fill="#fff" />
      <Panel
        id="left"
        left={76}
        right={586}
        title="Greenland IS | fit ISM n=2"
        groups={leftGroups}
        mean={leftMean}
        upper={leftUpper}
        lower={leftLower}
        lowerYears={leftLowerYears}
      />
      <Panel
        id="right"
        left={695}
        right={1206}
        title="Greenland IS | fit ISM n=2, fit residual n=2"
        groups={rightGroups}
        mean={rightMean}
        upper={rightUpper}
        lower={rightLower}
        lowerYears={blackYears}
      />
    </svg>
  );
}
